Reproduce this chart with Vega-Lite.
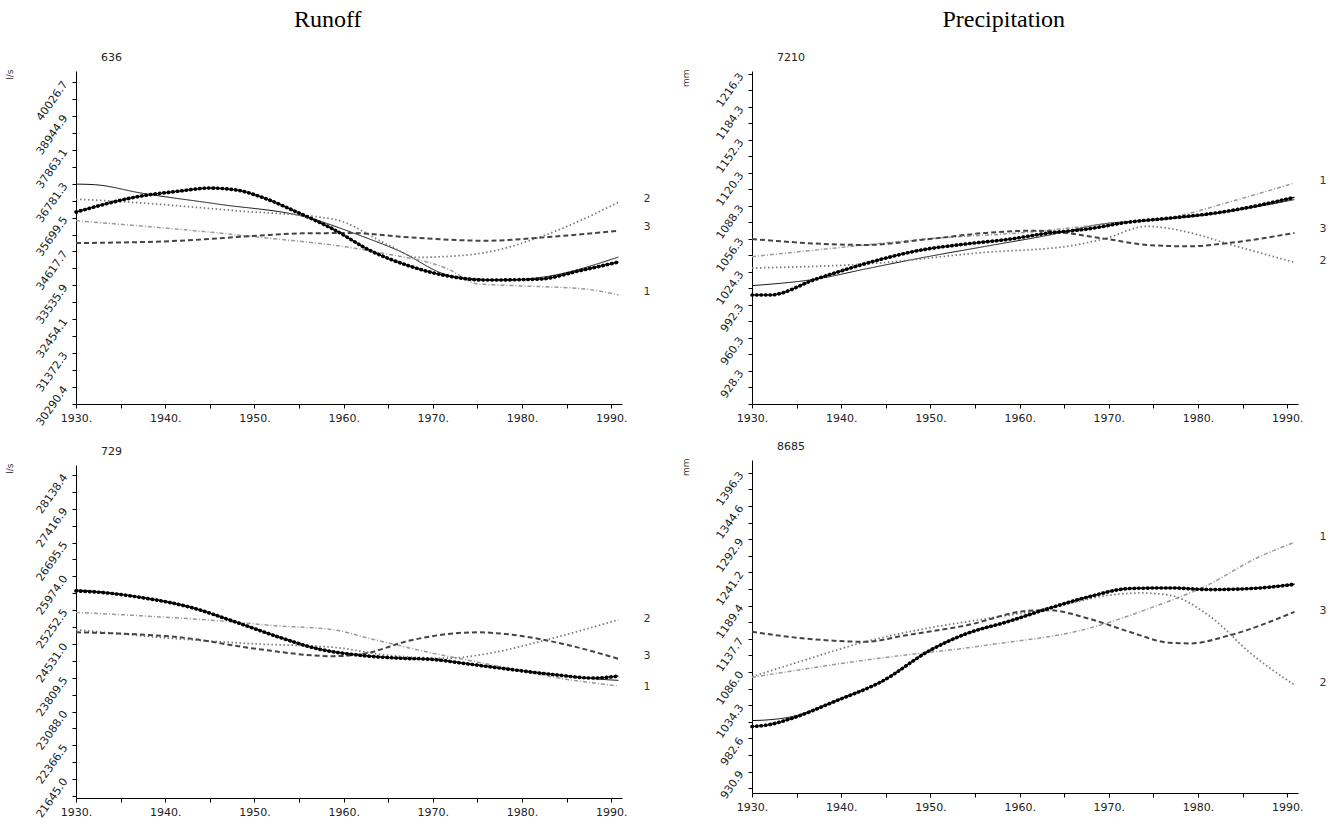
{
  "$schema": "https://vega.github.io/schema/vega-lite/v6.json",
  "padding": {"left": 5, "top": 8, "right": 5, "bottom": 5},
  "background": "white",
  "config": {
    "view": {"stroke": null},
    "axis": {"grid": false, "labelOverlap": false, "labelFlush": false, "tickCount": 60, "domainColor": "#000", "domainWidth": 1, "tickColor": "#000", "tickSize": 4, "labelColor": "#222", "labelFont": "DejaVu Sans", "labelFontSize": 11, "titleFont": "DejaVu Sans", "titleFontWeight": "normal", "titleColor": "#333", "titleFontSize": 9},
    "axisY": {"labelAngle": -55, "labelAlign": "right", "labelBaseline": "middle", "labelPadding": 7, "titleAngle": -90, "titleX": -62, "titleY": -2, "titleAlign": "right", "titleBaseline": "bottom"},
    "axisX": {"labelPadding": 4, "labelAngle": 0, "title": null},
    "title": {"font": "DejaVu Sans", "fontWeight": "normal", "color": "#222"}
  },
  "datasets": {
    "lines": [
      {"p":"636","s":"solid","t":1930,"v":36768},{"p":"636","s":"solid","t":1932.2,"v":36746},{"p":"636","s":"solid","t":1937.3,"v":36481},{"p":"636","s":"solid","t":1945.9,"v":36130},{"p":"636","s":"solid","t":1956.2,"v":35683},{"p":"636","s":"solid","t":1961.4,"v":35173},{"p":"636","s":"solid","t":1966.5,"v":34598},{"p":"636","s":"solid","t":1971.3,"v":33896},{"p":"636","s":"solid","t":1973.8,"v":33769},{"p":"636","s":"solid","t":1978.1,"v":33705},{"p":"636","s":"solid","t":1982.4,"v":33801},{"p":"636","s":"solid","t":1990.8,"v":34439},
      {"p":"636","s":"thick","t":1930,"v":35875},{"p":"636","s":"thick","t":1937.3,"v":36385},{"p":"636","s":"thick","t":1941.6,"v":36545},{"p":"636","s":"thick","t":1945,"v":36641},{"p":"636","s":"thick","t":1948,"v":36577},{"p":"636","s":"thick","t":1951.1,"v":36321},{"p":"636","s":"thick","t":1954.5,"v":35907},{"p":"636","s":"thick","t":1958.8,"v":35333},{"p":"636","s":"thick","t":1963.1,"v":34630},{"p":"636","s":"thick","t":1967.4,"v":34151},{"p":"636","s":"thick","t":1971.7,"v":33832},{"p":"636","s":"thick","t":1976,"v":33705},{"p":"636","s":"thick","t":1982,"v":33736},{"p":"636","s":"thick","t":1986.3,"v":33992},{"p":"636","s":"thick","t":1990.8,"v":34279},
      {"p":"636","s":"2","t":1930,"v":36289},{"p":"636","s":"2","t":1936.4,"v":36184},{"p":"636","s":"2","t":1948,"v":35917},{"p":"636","s":"2","t":1958.8,"v":35651},{"p":"636","s":"2","t":1965.2,"v":34799},{"p":"636","s":"2","t":1968.2,"v":34428},{"p":"636","s":"2","t":1971.7,"v":34459},{"p":"636","s":"2","t":1976,"v":34587},{"p":"636","s":"2","t":1982.4,"v":35119},{"p":"636","s":"2","t":1990.8,"v":36184},
      {"p":"636","s":"1","t":1930,"v":35597},{"p":"636","s":"1","t":1948.9,"v":35119},{"p":"636","s":"1","t":1963.9,"v":34587},{"p":"636","s":"1","t":1971.7,"v":34056},{"p":"636","s":"1","t":1975.1,"v":33577},{"p":"636","s":"1","t":1979.4,"v":33524},{"p":"636","s":"1","t":1987.1,"v":33417},{"p":"636","s":"1","t":1990.8,"v":33226},
      {"p":"636","s":"3","t":1930,"v":34885},{"p":"636","s":"3","t":1941.6,"v":34959},{"p":"636","s":"3","t":1950.2,"v":35118},{"p":"636","s":"3","t":1955.3,"v":35195},{"p":"636","s":"3","t":1960.9,"v":35205},{"p":"636","s":"3","t":1967.4,"v":35067},{"p":"636","s":"3","t":1976,"v":34959},{"p":"636","s":"3","t":1982.4,"v":35067},{"p":"636","s":"3","t":1990.8,"v":35278},

      {"p":"7210","s":"solid","t":1930,"v":1011.1},{"p":"7210","s":"solid","t":1937.7,"v":1018.2},{"p":"7210","s":"solid","t":1942.7,"v":1027.2},{"p":"7210","s":"solid","t":1949.9,"v":1039.5},{"p":"7210","s":"solid","t":1956.2,"v":1049.2},{"p":"7210","s":"solid","t":1963,"v":1059.6},{"p":"7210","s":"solid","t":1969.8,"v":1071.5},{"p":"7210","s":"solid","t":1974.3,"v":1074.1},{"p":"7210","s":"solid","t":1981.1,"v":1079.9},{"p":"7210","s":"solid","t":1990.8,"v":1094.5},
      {"p":"7210","s":"thick","t":1930,"v":1002},{"p":"7210","s":"thick","t":1932,"v":1002},{"p":"7210","s":"thick","t":1937.2,"v":1017.5},{"p":"7210","s":"thick","t":1944.9,"v":1037.6},{"p":"7210","s":"thick","t":1948.6,"v":1045},{"p":"7210","s":"thick","t":1954,"v":1051.5},{"p":"7210","s":"thick","t":1959,"v":1056.3},{"p":"7210","s":"thick","t":1963,"v":1061.8},{"p":"7210","s":"thick","t":1967.6,"v":1066},{"p":"7210","s":"thick","t":1972.1,"v":1072.5},{"p":"7210","s":"thick","t":1976.6,"v":1076.4},{"p":"7210","s":"thick","t":1982.5,"v":1082.2},{"p":"7210","s":"thick","t":1987,"v":1089.3},{"p":"7210","s":"thick","t":1990.8,"v":1096.7},
      {"p":"7210","s":"1","t":1930,"v":1039.2},{"p":"7210","s":"1","t":1942.7,"v":1050.5},{"p":"7210","s":"1","t":1949.5,"v":1056.3},{"p":"7210","s":"1","t":1960.8,"v":1062.8},{"p":"7210","s":"1","t":1969.8,"v":1070.9},{"p":"7210","s":"1","t":1976.6,"v":1076.4},{"p":"7210","s":"1","t":1983.4,"v":1091.9},{"p":"7210","s":"1","t":1990.8,"v":1110.6},
      {"p":"7210","s":"2","t":1930,"v":1028.2},{"p":"7210","s":"2","t":1942.7,"v":1032.1},{"p":"7210","s":"2","t":1956.2,"v":1043.4},{"p":"7210","s":"2","t":1965.3,"v":1049.2},{"p":"7210","s":"2","t":1969.4,"v":1056.3},{"p":"7210","s":"2","t":1974.3,"v":1068.6},{"p":"7210","s":"2","t":1978.9,"v":1062.8},{"p":"7210","s":"2","t":1983.4,"v":1051.5},{"p":"7210","s":"2","t":1990.8,"v":1033.7},
      {"p":"7210","s":"3","t":1930,"v":1056.3},{"p":"7210","s":"3","t":1938.1,"v":1051.5},{"p":"7210","s":"3","t":1942.7,"v":1050.5},{"p":"7210","s":"3","t":1949.9,"v":1056.3},{"p":"7210","s":"3","t":1956.2,"v":1062.2},{"p":"7210","s":"3","t":1961.7,"v":1064.4},{"p":"7210","s":"3","t":1969.8,"v":1056.3},{"p":"7210","s":"3","t":1974.3,"v":1050.5},{"p":"7210","s":"3","t":1978.9,"v":1049.2},{"p":"7210","s":"3","t":1983.4,"v":1052.4},{"p":"7210","s":"3","t":1990.8,"v":1062.2},

      {"p":"729","s":"thick","t":1930,"v":25662.8},{"p":"729","s":"thick","t":1933,"v":25627.4},{"p":"729","s":"thick","t":1937.3,"v":25521.3},{"p":"729","s":"thick","t":1942.9,"v":25309.1},{"p":"729","s":"thick","t":1948,"v":24990.8},{"p":"729","s":"thick","t":1952.8,"v":24672.5},{"p":"729","s":"thick","t":1957.1,"v":24425},{"p":"729","s":"thick","t":1961.4,"v":24297.7},{"p":"729","s":"thick","t":1966.1,"v":24227},{"p":"729","s":"thick","t":1970,"v":24198.7},{"p":"729","s":"thick","t":1973.8,"v":24106.7},{"p":"729","s":"thick","t":1978.1,"v":24000.6},{"p":"729","s":"thick","t":1983.7,"v":23873.3},{"p":"729","s":"thick","t":1988,"v":23802.6},{"p":"729","s":"thick","t":1990.8,"v":23845},
      {"p":"729","s":"solid","t":1930,"v":25684},{"p":"729","s":"solid","t":1933,"v":25640},{"p":"729","s":"solid","t":1937.3,"v":25530},{"p":"729","s":"solid","t":1942.9,"v":25315},{"p":"729","s":"solid","t":1948,"v":24995},{"p":"729","s":"solid","t":1952.8,"v":24680},{"p":"729","s":"solid","t":1957.1,"v":24435},{"p":"729","s":"solid","t":1961.4,"v":24305},{"p":"729","s":"solid","t":1966.1,"v":24235},{"p":"729","s":"solid","t":1970,"v":24205},{"p":"729","s":"solid","t":1973.8,"v":24115},{"p":"729","s":"solid","t":1978.1,"v":24010},{"p":"729","s":"solid","t":1983.7,"v":23880},{"p":"729","s":"solid","t":1988,"v":23788},{"p":"729","s":"solid","t":1990.8,"v":23753},
      {"p":"729","s":"1","t":1930,"v":25203},{"p":"729","s":"1","t":1937.3,"v":25132},{"p":"729","s":"1","t":1945.9,"v":25026},{"p":"729","s":"1","t":1952.3,"v":24920},{"p":"729","s":"1","t":1958.8,"v":24835},{"p":"729","s":"1","t":1963.1,"v":24637},{"p":"729","s":"1","t":1969.5,"v":24354},{"p":"729","s":"1","t":1976,"v":24107},{"p":"729","s":"1","t":1984.6,"v":23788},{"p":"729","s":"1","t":1990.8,"v":23633},
      {"p":"729","s":"2","t":1930,"v":24835},{"p":"729","s":"2","t":1941.6,"v":24637},{"p":"729","s":"2","t":1950.2,"v":24531},{"p":"729","s":"2","t":1958.8,"v":24460},{"p":"729","s":"2","t":1965.2,"v":24284},{"p":"729","s":"2","t":1971.7,"v":24227},{"p":"729","s":"2","t":1976,"v":24319},{"p":"729","s":"2","t":1982.4,"v":24602},{"p":"729","s":"2","t":1990.8,"v":25047},
      {"p":"729","s":"3","t":1930,"v":24779},{"p":"729","s":"3","t":1941.6,"v":24672},{"p":"729","s":"3","t":1950.2,"v":24425},{"p":"729","s":"3","t":1958.8,"v":24269},{"p":"729","s":"3","t":1962.2,"v":24319},{"p":"729","s":"3","t":1967.4,"v":24602},{"p":"729","s":"3","t":1971.7,"v":24743},{"p":"729","s":"3","t":1975.1,"v":24779},{"p":"729","s":"3","t":1978.1,"v":24743},{"p":"729","s":"3","t":1984.6,"v":24531},{"p":"729","s":"3","t":1990.8,"v":24213},

      {"p":"8685","s":"thick","t":1930,"v":1001.2},{"p":"8685","s":"thick","t":1931.8,"v":1003.8},{"p":"8685","s":"thick","t":1934.5,"v":1014.1},{"p":"8685","s":"thick","t":1939.5,"v":1041.6},{"p":"8685","s":"thick","t":1944.5,"v":1071.1},{"p":"8685","s":"thick","t":1950,"v":1120.2},{"p":"8685","s":"thick","t":1954.1,"v":1146.1},{"p":"8685","s":"thick","t":1958.6,"v":1164.2},{"p":"8685","s":"thick","t":1963.2,"v":1184.9},{"p":"8685","s":"thick","t":1967.7,"v":1203},{"p":"8685","s":"thick","t":1972.3,"v":1216},{"p":"8685","s":"thick","t":1976.8,"v":1217},{"p":"8685","s":"thick","t":1981.4,"v":1214.4},{"p":"8685","s":"thick","t":1985.9,"v":1216},{"p":"8685","s":"thick","t":1990.8,"v":1222.7},
      {"p":"8685","s":"solid","t":1930,"v":1010.5},{"p":"8685","s":"solid","t":1931.8,"v":1011.6},{"p":"8685","s":"solid","t":1934.5,"v":1016.7},{"p":"8685","s":"solid","t":1939.5,"v":1042.5},{"p":"8685","s":"solid","t":1944.5,"v":1071.5},{"p":"8685","s":"solid","t":1950,"v":1120.5},{"p":"8685","s":"solid","t":1954.1,"v":1146.5},{"p":"8685","s":"solid","t":1958.6,"v":1164.5},{"p":"8685","s":"solid","t":1963.2,"v":1185.2},{"p":"8685","s":"solid","t":1967.7,"v":1203.3},{"p":"8685","s":"solid","t":1972.3,"v":1216.3},{"p":"8685","s":"solid","t":1976.8,"v":1217.3},{"p":"8685","s":"solid","t":1981.4,"v":1214.7},{"p":"8685","s":"solid","t":1985.9,"v":1216.3},{"p":"8685","s":"solid","t":1990.8,"v":1223},
      {"p":"8685","s":"1","t":1930,"v":1077.8},{"p":"8685","s":"1","t":1942.7,"v":1104.7},{"p":"8685","s":"1","t":1956.4,"v":1128},{"p":"8685","s":"1","t":1967.7,"v":1153.9},{"p":"8685","s":"1","t":1974.5,"v":1184.9},{"p":"8685","s":"1","t":1981.4,"v":1223.7},{"p":"8685","s":"1","t":1986.4,"v":1262.5},{"p":"8685","s":"1","t":1990.8,"v":1288},
      {"p":"8685","s":"2","t":1930,"v":1078.8},{"p":"8685","s":"2","t":1935.9,"v":1104.7},{"p":"8685","s":"2","t":1942.7,"v":1133.2},{"p":"8685","s":"2","t":1949.5,"v":1153.9},{"p":"8685","s":"2","t":1956.4,"v":1169.4},{"p":"8685","s":"2","t":1963.2,"v":1184.9},{"p":"8685","s":"2","t":1970,"v":1205.6},{"p":"8685","s":"2","t":1973.6,"v":1209.2},{"p":"8685","s":"2","t":1976.8,"v":1205.6},{"p":"8685","s":"2","t":1981.4,"v":1172},{"p":"8685","s":"2","t":1985.9,"v":1115.1},{"p":"8685","s":"2","t":1990.8,"v":1065.9},
      {"p":"8685","s":"3","t":1930,"v":1148.7},{"p":"8685","s":"3","t":1935.9,"v":1138.3},{"p":"8685","s":"3","t":1942.7,"v":1133.2},{"p":"8685","s":"3","t":1947.3,"v":1143.5},{"p":"8685","s":"3","t":1954.1,"v":1159},{"p":"8685","s":"3","t":1960.9,"v":1181.3},{"p":"8685","s":"3","t":1963.2,"v":1182.3},{"p":"8685","s":"3","t":1967.7,"v":1169.4},{"p":"8685","s":"3","t":1972.3,"v":1148.7},{"p":"8685","s":"3","t":1976.8,"v":1131.6},{"p":"8685","s":"3","t":1979.1,"v":1130.6},{"p":"8685","s":"3","t":1983.6,"v":1143.5},{"p":"8685","s":"3","t":1990.8,"v":1179.7}
    ],
    "labels": [
      {"p":"636","s":"2","t":1994,"v":36289},{"p":"636","s":"3","t":1994,"v":35396},{"p":"636","s":"1","t":1994,"v":33322},
      {"p":"7210","s":"1","t":1994,"v":1112.5},{"p":"7210","s":"3","t":1994,"v":1066},{"p":"7210","s":"2","t":1994,"v":1035},
      {"p":"729","s":"2","t":1994,"v":25061},{"p":"729","s":"3","t":1994,"v":24276},{"p":"729","s":"1","t":1994,"v":23619},
      {"p":"8685","s":"1","t":1994,"v":1296.7},{"p":"8685","s":"3","t":1994,"v":1181.8},{"p":"8685","s":"2","t":1994,"v":1068.5}
    ]
  },
  "hconcat": [
    {
      "title": {"text": "Runoff", "font": "Liberation Serif", "fontSize": 24, "fontWeight": "normal", "color": "#000", "anchor": "middle", "offset": 20},
      "spacing": 18,
      "vconcat": [
        {
          "title": {"text": "636", "anchor": "start", "frame": "group", "dx": 25, "fontSize": 11, "offset": 6},
          "width": 546, "height": 333,
          "layer": [
            {"data": {"name": "lines"}, "transform": [{"filter": "datum.p=='636'"}],
             "mark": {"type": "line", "interpolate": "monotone"},
             "encoding": {
               "x": {"field": "t", "type": "quantitative", "scale": {"domain": [1930, 1991.2], "nice": false, "zero": false}, "axis": {"values": [1930,1935,1940,1945,1950,1955,1960,1965,1970,1975,1980,1985,1990], "labelExpr": "datum.value % 10 == 0 ? datum.value + '.' : ''"}},
               "y": {"field": "v", "type": "quantitative", "scale": {"domain": [29748, 40378], "nice": false, "zero": false}, "axis": {"title": "l/s", "values": [29749.5,30290.4,30831.35,31372.3,31913.2,32454.1,32995,33535.9,34076.8,34617.7,35158.6,35699.5,36240.4,36781.3,37322.2,37863.1,38404,38944.9,39485.8,40026.7], "labelExpr": "indexof([30290.4,31372.3,32454.1,33535.9,34617.7,35699.5,36781.3,37863.1,38944.9,40026.7], datum.value) >= 0 ? format(datum.value, '.1f') : ''"}},
               "color": {"field": "s", "type": "nominal", "legend": null, "scale": {"domain": ["solid","thick","1","2","3"], "range": ["#111","#000","#9a9a9a","#7a7a7a","#444"]}},
               "strokeDash": {"field": "s", "type": "nominal", "legend": null, "scale": {"domain": ["solid","thick","1","2","3"], "range": [[1,0],[1,0],[4,2,1,2],[1.5,2.5],[5,3]]}},
               "strokeWidth": {"field": "s", "type": "nominal", "legend": null, "scale": {"domain": ["solid","thick","1","2","3"], "range": [1,2,1,1.1,1.1]}}
             }},
            {"data": {"name": "lines"}, "transform": [{"filter": "datum.p=='636' && datum.s=='thick'"}],
             "mark": {"type": "line", "interpolate": "monotone", "color": "#000", "strokeDash": [0.5,4], "strokeWidth": 3.6, "strokeCap": "round"},
             "encoding": {"x": {"field": "t", "type": "quantitative"}, "y": {"field": "v", "type": "quantitative"}}},
            {"data": {"name": "labels"}, "transform": [{"filter": "datum.p=='636'"}],
             "mark": {"type": "text", "font": "DejaVu Sans", "fontSize": 11, "color": "#333", "align": "center", "baseline": "middle"},
             "encoding": {"x": {"field": "t", "type": "quantitative"}, "y": {"field": "v", "type": "quantitative"}, "text": {"field": "s"}}}
          ]
        },
        {
          "title": {"text": "729", "anchor": "start", "frame": "group", "dx": 25, "fontSize": 11, "offset": 6},
          "width": 546, "height": 333,
          "layer": [
            {"data": {"name": "lines"}, "transform": [{"filter": "datum.p=='729'"}],
             "mark": {"type": "line", "interpolate": "monotone"},
             "encoding": {
               "x": {"field": "t", "type": "quantitative", "scale": {"domain": [1930, 1991.2], "nice": false, "zero": false}, "axis": {"values": [1930,1935,1940,1945,1950,1955,1960,1965,1970,1975,1980,1985,1990], "labelExpr": "datum.value % 10 == 0 ? datum.value + '.' : ''"}},
               "y": {"field": "v", "type": "quantitative", "scale": {"domain": [21242, 28350], "nice": false, "zero": false}, "axis": {"title": "l/s", "values": [21284.3,21645.0,22005.8,22366.5,22727.3,23088.0,23448.8,23809.5,24170.3,24531.0,24891.8,25252.5,25613.3,25974.0,26334.8,26695.5,27056.2,27416.9,27777.7,28138.4], "labelExpr": "indexof([21645.0,22366.5,23088.0,23809.5,24531.0,25252.5,25974.0,26695.5,27416.9,28138.4], datum.value) >= 0 ? format(datum.value, '.1f') : ''"}},
               "color": {"field": "s", "type": "nominal", "legend": null, "scale": {"domain": ["solid","thick","1","2","3"], "range": ["#111","#000","#9a9a9a","#7a7a7a","#444"]}},
               "strokeDash": {"field": "s", "type": "nominal", "legend": null, "scale": {"domain": ["solid","thick","1","2","3"], "range": [[1,0],[1,0],[4,2,1,2],[1.5,2.5],[5,3]]}},
               "strokeWidth": {"field": "s", "type": "nominal", "legend": null, "scale": {"domain": ["solid","thick","1","2","3"], "range": [1,2,1,1.1,1.1]}}
             }},
            {"data": {"name": "lines"}, "transform": [{"filter": "datum.p=='729' && datum.s=='thick'"}],
             "mark": {"type": "line", "interpolate": "monotone", "color": "#000", "strokeDash": [0.5,4], "strokeWidth": 3.6, "strokeCap": "round"},
             "encoding": {"x": {"field": "t", "type": "quantitative"}, "y": {"field": "v", "type": "quantitative"}}},
            {"data": {"name": "labels"}, "transform": [{"filter": "datum.p=='729'"}],
             "mark": {"type": "text", "font": "DejaVu Sans", "fontSize": 11, "color": "#333", "align": "center", "baseline": "middle"},
             "encoding": {"x": {"field": "t", "type": "quantitative"}, "y": {"field": "v", "type": "quantitative"}, "text": {"field": "s"}}}
          ]
        }
      ]
    },
    {
      "title": {"text": "Precipitation", "font": "Liberation Serif", "fontSize": 24, "fontWeight": "normal", "color": "#000", "anchor": "middle", "offset": 20},
      "spacing": 18,
      "vconcat": [
        {
          "title": {"text": "7210", "anchor": "start", "frame": "group", "dx": 25, "fontSize": 11, "offset": 6},
          "width": 546, "height": 333,
          "layer": [
            {"data": {"name": "lines"}, "transform": [{"filter": "datum.p=='7210'"}],
             "mark": {"type": "line", "interpolate": "monotone"},
             "encoding": {
               "x": {"field": "t", "type": "quantitative", "scale": {"domain": [1930, 1991.2], "nice": false, "zero": false}, "axis": {"values": [1930,1935,1940,1945,1950,1955,1960,1965,1970,1975,1980,1985,1990], "labelExpr": "datum.value % 10 == 0 ? datum.value + '.' : ''"}},
               "y": {"field": "v", "type": "quantitative", "scale": {"domain": [896.3, 1219.2], "nice": false, "zero": false}, "axis": {"title": "mm", "values": [896.3,912.3,928.3,944.3,960.3,976.3,992.3,1008.3,1024.3,1040.3,1056.3,1072.3,1088.3,1104.3,1120.3,1136.3,1152.3,1168.3,1184.3,1200.3,1216.3], "labelExpr": "indexof([928.3,960.3,992.3,1024.3,1056.3,1088.3,1120.3,1152.3,1184.3,1216.3], datum.value) >= 0 ? format(datum.value, '.1f') : ''"}},
               "color": {"field": "s", "type": "nominal", "legend": null, "scale": {"domain": ["solid","thick","1","2","3"], "range": ["#111","#000","#9a9a9a","#7a7a7a","#444"]}},
               "strokeDash": {"field": "s", "type": "nominal", "legend": null, "scale": {"domain": ["solid","thick","1","2","3"], "range": [[1,0],[1,0],[1.5,2.5],[1.5,2.5],[5,3]]}},
               "strokeWidth": {"field": "s", "type": "nominal", "legend": null, "scale": {"domain": ["solid","thick","1","2","3"], "range": [1,2,1,1.1,1.1]}}
             }},
            {"data": {"name": "lines"}, "transform": [{"filter": "datum.p=='7210' && datum.s=='thick'"}],
             "mark": {"type": "line", "interpolate": "monotone", "color": "#000", "strokeDash": [0.5,4], "strokeWidth": 3.6, "strokeCap": "round"},
             "encoding": {"x": {"field": "t", "type": "quantitative"}, "y": {"field": "v", "type": "quantitative"}}},
            {"data": {"name": "labels"}, "transform": [{"filter": "datum.p=='7210'"}],
             "mark": {"type": "text", "font": "DejaVu Sans", "fontSize": 11, "color": "#333", "align": "center", "baseline": "middle"},
             "encoding": {"x": {"field": "t", "type": "quantitative"}, "y": {"field": "v", "type": "quantitative"}, "text": {"field": "s"}}}
          ]
        },
        {
          "title": {"text": "8685", "anchor": "start", "frame": "group", "dx": 25, "fontSize": 11, "offset": 6},
          "width": 546, "height": 333,
          "layer": [
            {"data": {"name": "lines"}, "transform": [{"filter": "datum.p=='8685'"}],
             "mark": {"type": "line", "interpolate": "monotone"},
             "encoding": {
               "x": {"field": "t", "type": "quantitative", "scale": {"domain": [1930, 1991.2], "nice": false, "zero": false}, "axis": {"values": [1930,1935,1940,1945,1950,1955,1960,1965,1970,1975,1980,1985,1990], "labelExpr": "datum.value % 10 == 0 ? datum.value + '.' : ''"}},
               "y": {"field": "v", "type": "quantitative", "scale": {"domain": [897.7, 1416.2], "nice": false, "zero": false}, "axis": {"title": "mm", "values": [905.0,930.9,956.8,982.6,1008.5,1034.3,1060.2,1086.0,1111.9,1137.7,1163.6,1189.4,1215.3,1241.2,1267.1,1292.9,1318.8,1344.6,1370.5,1396.3], "labelExpr": "indexof([930.9,982.6,1034.3,1086.0,1137.7,1189.4,1241.2,1292.9,1344.6,1396.3], datum.value) >= 0 ? format(datum.value, '.1f') : ''"}},
               "color": {"field": "s", "type": "nominal", "legend": null, "scale": {"domain": ["solid","thick","1","2","3"], "range": ["#111","#000","#9a9a9a","#7a7a7a","#444"]}},
               "strokeDash": {"field": "s", "type": "nominal", "legend": null, "scale": {"domain": ["solid","thick","1","2","3"], "range": [[1,0],[1,0],[1.5,2.5],[1.5,2.5],[5,3]]}},
               "strokeWidth": {"field": "s", "type": "nominal", "legend": null, "scale": {"domain": ["solid","thick","1","2","3"], "range": [1,2,1,1.1,1.1]}}
             }},
            {"data": {"name": "lines"}, "transform": [{"filter": "datum.p=='8685' && datum.s=='thick'"}],
             "mark": {"type": "line", "interpolate": "monotone", "color": "#000", "strokeDash": [0.5,4], "strokeWidth": 3.6, "strokeCap": "round"},
             "encoding": {"x": {"field": "t", "type": "quantitative"}, "y": {"field": "v", "type": "quantitative"}}},
            {"data": {"name": "labels"}, "transform": [{"filter": "datum.p=='8685'"}],
             "mark": {"type": "text", "font": "DejaVu Sans", "fontSize": 11, "color": "#333", "align": "center", "baseline": "middle"},
             "encoding": {"x": {"field": "t", "type": "quantitative"}, "y": {"field": "v", "type": "quantitative"}, "text": {"field": "s"}}}
          ]
        }
      ]
    }
  ],
  "spacing": 30
}
